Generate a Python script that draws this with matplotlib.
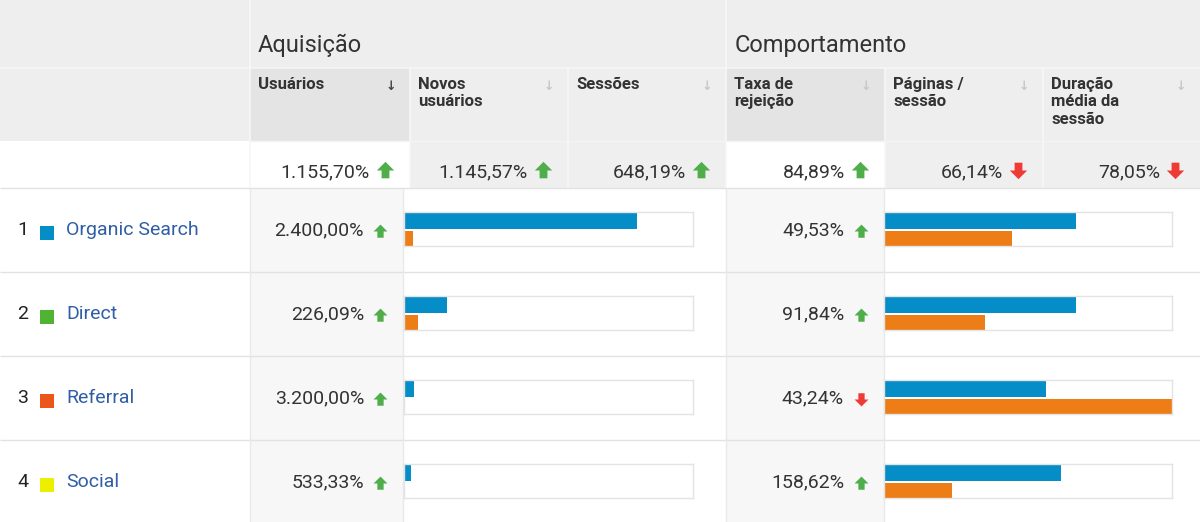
import matplotlib
matplotlib.use('Agg')
import matplotlib.pyplot as plt
from matplotlib.patches import Rectangle
from matplotlib.path import Path

plt.rcParams['font.family'] = ['Roboto', 'DejaVu Sans']

# ---------------- data ----------------
grupos = ['Aquisição', 'Comportamento']
colunas = ['Usuários', 'Novos\nusuários', 'Sessões', 'Taxa de\nrejeição',
           'Páginas /\nsessão', 'Duração\nmédia da\nsessão']
totais = ['1.155,70%', '1.145,57%', '648,19%', '84,89%', '66,14%', '78,05%']
totais_sobe = [True, True, True, True, False, False]
canais = ['Organic Search', 'Direct', 'Referral', 'Social']
cores_canais = ['#058dc7', '#50b432', '#ed561b', '#edef00']
usuarios_var = ['2.400,00%', '226,09%', '3.200,00%', '533,33%']
usuarios_sobe = [True, True, True, True]
usuarios_atual = [80.6, 14.9, 3.5, 2.4]
usuarios_anterior = [3.1, 4.8, 0.4, 0.4]
rejeicao_var = ['49,53%', '91,84%', '43,24%', '158,62%']
rejeicao_sobe = [True, True, False, True]
rejeicao_atual = [66.7, 66.7, 56.1, 61.3]
rejeicao_anterior = [44.6, 35.1, 100.0, 23.7]

# ---------------- style / layout ----------------
W, H = 1200, 522
BLUE, ORANGE = '#058dc7', '#ed7e17'
GREEN, RED = '#4fae4a', '#ef3b36'
TXT = '#333333'
LINK = '#2f5ea6'
col_edges = [250, 410, 568, 726, 885, 1043, 1200]
Y_HDR, Y_TOT, Y_DATA, ROW_H = 68, 141, 188, 84

fig = plt.figure(figsize=(12, 5.22), dpi=100)
fig.patch.set_facecolor('white')
ax = fig.add_axes([0, 0, 1, 1])
ax.set_xlim(0, W)
ax.set_ylim(H, 0)
ax.axis('off')


def rect(x0, y0, x1, y1, color, z=0):
    ax.add_patch(Rectangle((x0, y0), x1 - x0, y1 - y0, facecolor=color,
                           edgecolor='none', zorder=z))


def hline(y, x0, x1, color, lw=1.0):
    ax.plot([x0, x1], [y, y], color=color, lw=lw, zorder=1, solid_capstyle='butt')


def vline(x, y0, y1, color, lw=1.0):
    ax.plot([x, x], [y0, y1], color=color, lw=lw, zorder=1, solid_capstyle='butt')


up_path = Path([(-1, 0.0), (0, 1.0), (1, 0.0), (0.45, 0.0), (0.45, -0.9),
                (-0.45, -0.9), (-0.45, 0.0), (-1, 0.0)], closed=True)
down_path = Path([(x, -y) for x, y in up_path.vertices], closed=True)


def arrow(x, y, up, size):
    ax.plot([x], [y], marker=up_path if up else down_path, markersize=size,
            color=GREEN if up else RED, markeredgewidth=0, zorder=5)


# ---- header backgrounds ----
rect(0, 0, W, Y_HDR, '#eeeeee')
rect(0, Y_HDR, W, Y_TOT, '#eeeeee')
for i, (a, b) in enumerate(zip(col_edges[:-1], col_edges[1:])):
    if i in (0, 3):
        rect(a, Y_HDR, b, Y_TOT, '#e4e4e4')
        rect(a, Y_TOT, b, Y_DATA, 'white')
    else:
        rect(a, Y_TOT, b, Y_DATA, '#efefef')

# ---- data backgrounds ----
rect(250, Y_DATA, 403, H, '#f7f7f7')
rect(726, Y_DATA, 884, H, '#f7f7f7')

# lines
hline(Y_HDR, 0, W, '#f6f6f6', 1.2)
for x in col_edges[:-1]:
    vline(x, Y_HDR, Y_DATA, '#f7f7f7', 1.2)
vline(250, 0, Y_HDR, '#f7f7f7', 1.2)
vline(726, 0, Y_HDR, '#f7f7f7', 1.2)
hline(Y_TOT, 250, W, '#f4f4f4', 1.0)
for k in range(4):
    hline(Y_DATA + k * ROW_H, 0, W, '#e2e2e2', 1.0)
for x in (250, 403, 726, 884):
    vline(x, Y_DATA, H, '#e9e9e9', 1.0)

# ---- group headers ----
ax.text(258, 52, grupos[0], fontsize=17, color=TXT, va='baseline', ha='left')
ax.text(735, 52, grupos[1], fontsize=17, color=TXT, va='baseline', ha='left')

# ---- column headers ----
for i, (lab, a, b) in enumerate(zip(colunas, col_edges[:-1], col_edges[1:])):
    ax.text(a + 8, 77, lab, fontsize=12, fontweight='bold', color=TXT,
            va='top', ha='left', linespacing=1.2)
    ax.text(b - 19, 87, '↓', fontsize=9, fontweight='bold',
            color='#444444' if i == 0 else '#c8c8c8',
            ha='center', va='center', family=['DejaVu Sans'])
    # totals
    ax.text(b - 40, 177, totais[i], fontsize=14, color=TXT, ha='right', va='baseline')
    arrow(b - 25, 170, totais_sobe[i], 12.5)

# ---- data rows ----
def bar_cell(x_left, width, yc, atual, anterior):
    top = yc - 18
    bax = fig.add_axes([x_left / W, 1 - (top + 34) / H, width / W, 34 / H])
    bax.set_xlim(0, 100)
    bax.set_ylim(34, 0)
    bax.barh([9.0, 26.0], [atual, anterior], height=[16.0, 15.0],
             color=[BLUE, ORANGE], align='center')
    bax.set_facecolor('white')
    bax.set_xticks([])
    bax.set_yticks([])
    for s in bax.spines.values():
        s.set_color('#e3e3e3')
        s.set_linewidth(1.0)


for r in range(len(canais)):
    yc = Y_DATA + r * ROW_H + ROW_H / 2
    ax.text(17, yc + 5, str(r + 1), fontsize=14, color='#222222', ha='left', va='baseline')
    ax.add_patch(Rectangle((40, yc - 4), 14, 14, facecolor=cores_canais[r],
                           edgecolor='none', zorder=3))
    ax.text(66, yc + 5, canais[r], fontsize=14, color=LINK, ha='left', va='baseline')
    ax.text(403 - 39, yc + 5, usuarios_var[r], fontsize=14, color=TXT,
            ha='right', va='baseline')
    arrow(403 - 23, yc + 1, usuarios_sobe[r], 10)
    ax.text(884 - 40, yc + 5, rejeicao_var[r], fontsize=14, color=TXT,
            ha='right', va='baseline')
    arrow(884 - 23, yc + 1, rejeicao_sobe[r], 10)
    bar_cell(404, 289, yc, usuarios_atual[r], usuarios_anterior[r])
    bar_cell(884, 288, yc, rejeicao_atual[r], rejeicao_anterior[r])

fig.savefig('out.png', dpi=100, facecolor='white')
